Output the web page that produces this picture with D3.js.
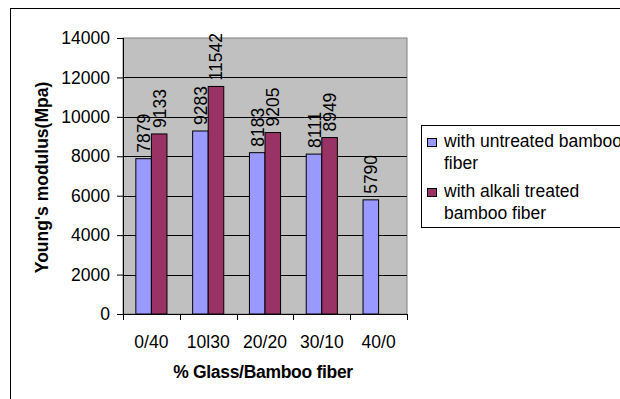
<!DOCTYPE html>
<html>
<head>
<meta charset="utf-8">
<script src="https://cdn.jsdelivr.net/npm/d3@7"></script>
<style>
  body { margin: 0; background: #fff; }
  text { font-family: Arial, "Liberation Sans", sans-serif; }
</style>
</head>
<body>
<div id="viz"></div>
<script>
// Data
var categories = ["0/40", "10l30", "20/20", "30/10", "40/0"];
var untreated = [7879, 9283, 8183, 8111, 5790];
var alkali = [9133, 11542, 9205, 8949, null];
var legendLines = [["with untreated bamboo", "fiber"], ["with alkali treated", "bamboo fiber"]];
var yTicks = [0, 2000, 4000, 6000, 8000, 10000, 12000, 14000];

var w = 620, h = 399;
var plot = {left: 123, top: 38, right: 407, bottom: 314};
var colors = ["#9999FF", "#993366"];
var font = "Arial, 'Liberation Sans', sans-serif";
var fs = 17.5;

var svg = d3.select("#viz").append("svg")
  .attr("width", w).attr("height", h);

// outer frame (runs off the right and bottom edges)
svg.append("rect")
  .attr("x", 10.5).attr("y", 8.5)
  .attr("width", 700).attr("height", 500)
  .attr("fill", "#fff").attr("stroke", "#000");

var x = d3.scaleBand().domain(categories)
  .range([plot.left, plot.right]).paddingInner(0).paddingOuter(0);
var y = d3.scaleLinear().domain([0, 14000]).range([plot.bottom, plot.top]);

var bw = x.bandwidth() / 3.65;
var gap = (x.bandwidth() - 2 * bw) / 2;

// plot background
svg.append("rect")
  .attr("x", plot.left).attr("y", plot.top)
  .attr("width", plot.right - plot.left).attr("height", plot.bottom - plot.top)
  .attr("fill", "#C0C0C0").attr("stroke", "#808080");

// gridlines
svg.append("g").selectAll("line")
  .data(yTicks.slice(1, -1)).enter().append("line")
  .attr("x1", plot.left).attr("x2", plot.right)
  .attr("y1", function(d){ return Math.round(y(d)) + 0.5; })
  .attr("y2", function(d){ return Math.round(y(d)) + 0.5; })
  .attr("stroke", "#000");

// bars
var rows = [];
categories.forEach(function(c, i){
  rows.push({cat: c, s: 0, v: untreated[i]});
  if (alkali[i] != null) rows.push({cat: c, s: 1, v: alkali[i]});
});

function barX(d){ return x(d.cat) + gap + d.s * bw; }

svg.append("g").selectAll("rect")
  .data(rows).enter().append("rect")
  .attr("x", barX)
  .attr("y", function(d){ return y(d.v); })
  .attr("width", bw)
  .attr("height", function(d){ return y(0) - y(d.v); })
  .attr("fill", function(d){ return colors[d.s]; })
  .attr("stroke", "#000").attr("stroke-width", 1);

// value labels
svg.append("g").selectAll("text")
  .data(rows).enter().append("text")
  .attr("transform", function(d){
    return "translate(" + (barX(d) + bw / 2 + 6.5) + "," + (y(d.v) - 6) + ") rotate(-90)";
  })
  .style("font-size", fs + "px")
  .text(function(d){ return d.v; });

// y axis
var yAxis = d3.axisLeft(y).tickValues(yTicks).tickFormat(d3.format("d")).tickSize(6).tickPadding(7);
var gy = svg.append("g").attr("transform", "translate(" + plot.left + ",0)").call(yAxis)
  .attr("font-family", font).attr("font-size", fs);
gy.selectAll("text").attr("fill", "#000");
gy.selectAll("line, path").attr("stroke", "#000");
gy.select("path").attr("d", "M0.5," + plot.top + "V" + plot.bottom);

// x axis
var xAxis = d3.axisBottom(x).tickSize(0).tickPadding(21.5);
var gx = svg.append("g").attr("transform", "translate(0," + plot.bottom + ")").call(xAxis)
  .attr("font-family", font).attr("font-size", fs);
gx.selectAll("text").attr("fill", "#000");
gx.select("path").attr("stroke", "#000").attr("d", "M" + plot.left + ",0.5H" + plot.right);
gx.append("g").selectAll("line")
  .data(d3.range(categories.length + 1)).enter().append("line")
  .attr("x1", function(i){ return Math.round(plot.left + i * x.step()) + 0.5; })
  .attr("x2", function(i){ return Math.round(plot.left + i * x.step()) + 0.5; })
  .attr("y1", 0).attr("y2", 6).attr("stroke", "#000");

// axis titles
svg.append("text")
  .attr("transform", "translate(48,177.5) rotate(-90)")
  .attr("text-anchor", "middle")
  .style("font-size", fs + "px").style("font-weight", "bold")
  .text("Young's modulus(Mpa)");

svg.append("text")
  .attr("x", 263).attr("y", 378)
  .attr("text-anchor", "middle")
  .style("font-size", fs + "px").style("font-weight", "bold")
  .style("letter-spacing", "-0.3px")
  .text("% Glass/Bamboo fiber");

// legend
var lg = svg.append("g");
lg.append("rect")
  .attr("x", 421.5).attr("y", 125.5).attr("width", 300).attr("height", 102)
  .attr("fill", "#fff").attr("stroke", "#000");
legendLines.forEach(function(lines, i){
  var y0 = 147 + i * 50;
  lg.append("rect")
    .attr("x", 427.5).attr("y", y0 - 8.5).attr("width", 9).attr("height", 8)
    .attr("fill", colors[i]).attr("stroke", "#000");
  lines.forEach(function(t, j){
    lg.append("text").attr("x", 444).attr("y", y0 + j * 21.5)
      .style("font-size", fs + "px").text(t);
  });
});
</script>
</body>
</html>
